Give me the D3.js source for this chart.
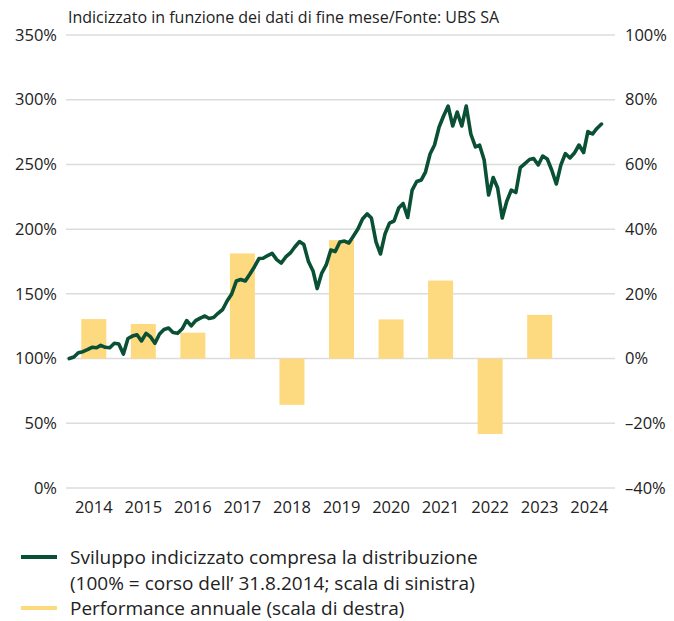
<!DOCTYPE html>
<html>
<head>
<meta charset="utf-8">
<script src="https://d3js.org/d3.v7.min.js"></script>
<style>
    body { margin: 0; background: #fff; }
    svg { font-family: "Open Sans", "Noto Sans", sans-serif; }
</style>
</head>
<body>
<svg id="drawing_region"></svg>
<script>
// anni (categorie delle barre)
const years = ["2014", "2015", "2016", "2017", "2018", "2019", "2020", "2021", "2022", "2023", "2024"];
// performance annuale in % (scala di destra), 2024 senza barra
const annualPerf = [12.2, 10.7, 8.0, 32.5, -14.3, 36.6, 12.1, 24.1, -23.3, 13.5, null];

// sviluppo indicizzato mensile, 31.8.2014 = 100 (scala di sinistra)
const lineStart = "2014-08-31";
const indexValues = [
    100, 101.2, 104.5, 105.3, 106.9, 108.7, 108.4, 110.2, 108.7, 108.4, 111.8, 111.3,
    103.5, 115.5, 117.4, 118.4, 113.6, 119.5, 116.7, 111.8, 119.0, 122.5, 123.6, 120.1,
    119.5, 123.0, 129.4, 125.2, 129.3, 131.3, 132.9, 131.0, 131.7, 135.0, 137.9, 144.5,
    149.9, 159.9, 161.1, 159.9, 165.1, 170.8, 177.3, 177.5, 179.6, 181.3, 176.5, 173.8,
    178.5, 181.6, 186.2, 190.4, 188.1, 175.0, 167.7, 154.1, 166.1, 172.3, 183.9, 182.7,
    190.1, 190.8, 189.3, 194.7, 200.1, 207.8, 211.8, 208.6, 190.1, 180.8, 196.3, 204.7,
    206.3, 216.3, 219.8, 209.0, 230.2, 236.8, 238.0, 244.1, 258.1, 265.0, 278.9, 287.4,
    295.1, 279.7, 290.5, 279.7, 295.1, 273.5, 263.5, 265.0, 253.4, 226.4, 239.9, 231.8,
    208.6, 221.7, 230.2, 228.3, 247.6, 250.7, 253.8, 254.6, 249.6, 256.5, 254.2, 245.7,
    234.9, 249.6, 258.4, 255.0, 258.8, 265.0, 259.2, 275.4, 273.5, 277.8, 281.2
];

// tick
const leftTicks = [0, 50, 100, 150, 200, 250, 300, 350];
const rightTicks = [-40, -20, 0, 20, 40, 60, 80, 100];

const title = "Indicizzato in funzione dei dati di fine mese/Fonte: UBS SA";
const legendItems = [
    { label: ["Sviluppo indicizzato compresa la distribuzione",
              "(100% = corso dell\u2019 31.8.2014; scala di sinistra)"], color: "#0a5034" },
    { label: ["Performance annuale (scala di destra)"], color: "#fdd97f" }
];

const W = 674, H = 621;
const plot = { left: 66, right: 615, top: 35, bottom: 488 };
const textColor = "#222";

const svg = d3.select("#drawing_region")
    .attr("width", W)
    .attr("height", H);

// scale
const xBand = d3.scaleBand()
    .domain(years)
    .range([69, 614]);

const parseDate = d3.timeParse("%Y-%m-%d");
const t0 = parseDate(lineStart);
const lineData = indexValues.map((v, i) => ({ date: d3.timeMonth.offset(t0, i), value: v }));

const xTime = d3.scaleTime()
    .domain(d3.extent(lineData, d => d.date))
    .range([69.3, 601.5]);

const yLeft = d3.scaleLinear().domain([0, 350]).range([plot.bottom, plot.top]);
const yRight = d3.scaleLinear().domain([-40, 100]).range([plot.bottom, plot.top]);

const pct = v => (v < 0 ? "\u2013" + Math.abs(v) : v) + "%";

// griglia
svg.append("g")
    .selectAll("line")
    .data(leftTicks)
    .join("line")
    .attr("x1", plot.left)
    .attr("x2", plot.right)
    .attr("y1", d => yLeft(d))
    .attr("y2", d => yLeft(d))
    .attr("stroke", "#dcdcdc")
    .attr("stroke-width", 1.5);

// assi sinistro e destro (solo etichette)
const leftAxis = svg.append("g")
    .attr("transform", `translate(${plot.left}, 0)`)
    .call(d3.axisLeft(yLeft).tickValues(leftTicks).tickFormat(pct).tickSize(0).tickPadding(9));

const rightAxis = svg.append("g")
    .attr("transform", `translate(${plot.right}, 0)`)
    .call(d3.axisRight(yRight).tickValues(rightTicks).tickFormat(pct).tickSize(0).tickPadding(10));

const xAxis = svg.append("g")
    .attr("transform", `translate(0, ${plot.bottom})`)
    .call(d3.axisBottom(xBand).tickSize(0).tickPadding(13));

[leftAxis, rightAxis, xAxis].forEach(g => {
    g.select(".domain").remove();
    g.selectAll("text")
        .attr("font-size", 16.5)
        .attr("font-family", "'Open Sans', sans-serif")
        .attr("fill", textColor);
});

// barre
const barW = 25;
svg.append("g")
    .selectAll("rect")
    .data(years.map((y, i) => ({ year: y, value: annualPerf[i] })).filter(d => d.value !== null))
    .join("rect")
    .attr("x", d => xBand(d.year) + xBand.bandwidth() / 2 - barW / 2)
    .attr("width", barW)
    .attr("y", d => yRight(Math.max(0, d.value)))
    .attr("height", d => Math.abs(yRight(d.value) - yRight(0)))
    .attr("fill", "#fdd97f");

// linea
const line = d3.line()
    .x(d => xTime(d.date))
    .y(d => yLeft(d.value));

svg.append("path")
    .datum(lineData)
    .attr("d", line)
    .attr("fill", "none")
    .attr("stroke", "#0a5034")
    .attr("stroke-width", 3.6)
    .attr("stroke-linejoin", "round")
    .attr("stroke-linecap", "round");

// titolo
svg.append("text")
    .attr("x", 68)
    .attr("y", 23)
    .attr("font-size", 16)
    .attr("fill", textColor)
    .text(title);

// legenda
const legend = svg.append("g");
let ly = 564;
legendItems.forEach(item => {
    legend.append("line")
        .attr("x1", 21).attr("x2", 57)
        .attr("y1", ly - 7).attr("y2", ly - 7)
        .attr("stroke", item.color)
        .attr("stroke-width", 4);
    item.label.forEach(s => {
        legend.append("text")
            .attr("x", 70)
            .attr("y", ly)
            .attr("font-size", 19)
            .attr("fill", textColor)
            .text(s);
        ly += 25.5;
    });
});
</script>
</body>
</html>
